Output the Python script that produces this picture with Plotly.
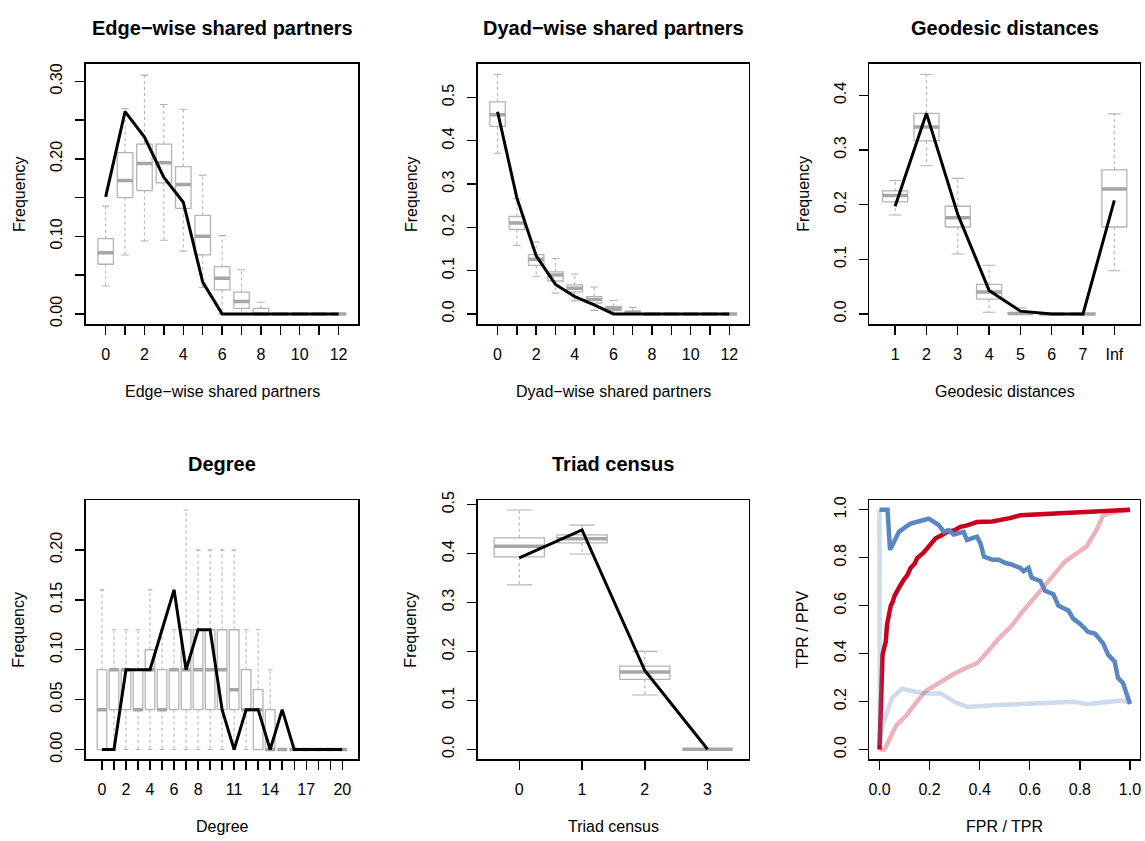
import plotly.graph_objects as go

# ---------------- data ----------------
# Edge-wise shared partners (positions 0..12)
esp_pos = list(range(13))
esp_lo = [0.036, 0.076, 0.094, 0.095, 0.081, 0.034, 0.0, 0.0, 0.0, 0, 0, 0, 0]
esp_q1 = [0.064, 0.150, 0.159, 0.169, 0.136, 0.076, 0.031, 0.007, 0.0, 0, 0, 0, 0]
esp_med = [0.079, 0.172, 0.194, 0.195, 0.167, 0.100, 0.046, 0.016, 0.0, 0, 0, 0, 0]
esp_q3 = [0.097, 0.208, 0.219, 0.219, 0.190, 0.127, 0.061, 0.028, 0.007, 0, 0, 0, 0]
esp_hi = [0.139, 0.265, 0.308, 0.270, 0.264, 0.179, 0.101, 0.057, 0.015, 0, 0, 0, 0]
esp_obs = [0.151, 0.261, 0.228, 0.176, 0.144, 0.041, 0, 0, 0, 0, 0, 0, 0]

# Dyad-wise shared partners (positions 0..12)
dsp_pos = list(range(13))
dsp_lo = [0.371, 0.158, 0.087, 0.048, 0.030, 0.008, 0.0, 0.0, 0, 0, 0, 0, 0]
dsp_q1 = [0.433, 0.195, 0.112, 0.076, 0.051, 0.025, 0.0076, 0.0, 0, 0, 0, 0, 0]
dsp_med = [0.460, 0.210, 0.126, 0.090, 0.059, 0.033, 0.012, 0.004, 0, 0, 0, 0, 0]
dsp_q3 = [0.490, 0.225, 0.137, 0.097, 0.067, 0.040, 0.0175, 0.006, 0.001, 0, 0, 0, 0]
dsp_hi = [0.553, 0.266, 0.166, 0.128, 0.092, 0.062, 0.031, 0.015, 0.002, 0, 0, 0, 0]
dsp_obs = [0.467, 0.268, 0.134, 0.068, 0.040, 0.021, 0, 0, 0, 0, 0, 0, 0]

# Geodesic distances (positions 1..7, Inf at 8)
geo_pos = [1, 2, 3, 4, 5, 6, 7, 8]
geo_lo = [0.181, 0.271, 0.1095, 0.003, 0, 0, 0, 0.079]
geo_q1 = [0.205, 0.3165, 0.159, 0.027, 0, 0, 0, 0.159]
geo_med = [0.2166, 0.342, 0.176, 0.040, 0.0005, 0, 0, 0.2286]
geo_q3 = [0.225, 0.367, 0.197, 0.054, 0.002, 0, 0, 0.2635]
geo_hi = [0.244, 0.438, 0.248, 0.089, 0.011, 0, 0, 0.366]
geo_obs = [0.197, 0.367, 0.182, 0.043, 0.005, 0, 0, 0.2076]

# Degree (positions 0..20)
deg_pos = list(range(21))
deg_lo = [0.0] * 21
deg_q1 = [0, 0.04, 0.04, 0.04, 0.04, 0.04, 0.04, 0.04, 0.04, 0.04, 0.04, 0.04, 0.04, 0, 0, 0, 0, 0, 0, 0, 0]
deg_med = [0.04, 0.08, 0.08, 0.04, 0.08, 0.04, 0.08, 0.08, 0.08, 0.08, 0.08, 0.06, 0.04, 0.04, 0, 0, 0, 0, 0, 0, 0]
deg_q3 = [0.08, 0.08, 0.08, 0.08, 0.10, 0.08, 0.08, 0.12, 0.12, 0.12, 0.12, 0.12, 0.08, 0.06, 0.04, 0, 0, 0, 0, 0, 0]
deg_hi = [0.16, 0.12, 0.12, 0.12, 0.16, 0.12, 0.12, 0.24, 0.20, 0.20, 0.20, 0.20, 0.12, 0.12, 0.08, 0, 0, 0, 0, 0, 0]
deg_obs = [0, 0, 0.08, 0.08, 0.08, 0.12, 0.16, 0.08, 0.12, 0.12, 0.04, 0, 0.04, 0.04, 0, 0.04, 0, 0, 0, 0, 0]

# Triad census (positions 0..3)
tri_pos = [0, 1, 2, 3]
tri_lo = [0.336, 0.399, 0.111, 0]
tri_q1 = [0.393, 0.4215, 0.143, 0]
tri_med = [0.415, 0.430, 0.158, 0]
tri_q3 = [0.432, 0.438, 0.170, 0]
tri_hi = [0.489, 0.458, 0.200, 0]
tri_obs = [0.391, 0.448, 0.161, 0]

# ROC / PR curves
roc_fpr = [0, 0.003, 0.005, 0.008, 0.012, 0.02, 0.025, 0.03, 0.038, 0.045, 0.052, 0.06, 0.078, 0.09,
           0.098, 0.11, 0.124, 0.14, 0.151, 0.175, 0.197, 0.224, 0.25, 0.27, 0.3, 0.323, 0.35, 0.389,
           0.45, 0.476, 0.52, 0.562, 0.7, 0.85, 1.0]
roc_tpr = [0, 0.1, 0.23, 0.33, 0.395, 0.43, 0.449, 0.52, 0.573, 0.6, 0.614, 0.641, 0.675, 0.70,
           0.71, 0.725, 0.757, 0.775, 0.799, 0.82, 0.847, 0.881, 0.895, 0.908, 0.915, 0.929, 0.935, 0.949,
           0.951, 0.955, 0.965, 0.977, 0.985, 0.993, 1.0]
pr_tpr = [0, 0.032, 0.042, 0.06, 0.078, 0.1, 0.124, 0.159, 0.197, 0.237, 0.257, 0.276, 0.296, 0.336,
          0.349, 0.389, 0.403, 0.417, 0.45, 0.476, 0.503, 0.529, 0.562, 0.575, 0.595, 0.608, 0.642,
          0.661, 0.694, 0.714, 0.754, 0.774, 0.8, 0.833, 0.86, 0.893, 0.913, 0.939, 0.952, 0.972, 1.0]
pr_ppv = [1.0, 1.0, 0.833, 0.867, 0.908, 0.925, 0.942, 0.952, 0.963, 0.936, 0.908, 0.915, 0.897, 0.908,
          0.874, 0.888, 0.86, 0.805, 0.792, 0.792, 0.778, 0.771, 0.757, 0.744, 0.757, 0.716, 0.703,
          0.662, 0.648, 0.6, 0.58, 0.545, 0.525, 0.49, 0.484, 0.443, 0.395, 0.367, 0.299, 0.278, 0.19]
null_roc_fpr = [0, 0.02, 0.066, 0.106, 0.146, 0.185, 0.238, 0.291, 0.344, 0.39, 0.437, 0.476, 0.529,
                0.569, 0.648, 0.741, 0.827, 0.866, 0.893, 0.939, 1.0]
null_roc_tpr = [0, 0, 0.1, 0.141, 0.196, 0.244, 0.278, 0.312, 0.34, 0.36, 0.415, 0.463, 0.518,
                0.573, 0.669, 0.785, 0.847, 0.915, 0.977, 0.99, 1.0]
null_pr_tpr = [0, 0.001, 0.012, 0.05, 0.09, 0.146, 0.198, 0.245, 0.304, 0.351, 0.45, 0.582, 0.741,
               0.78, 0.827, 0.966, 1.0]
null_pr_ppv = [1.0, 0.02, 0.1, 0.215, 0.254, 0.24, 0.234, 0.234, 0.196, 0.178, 0.185, 0.189, 0.196,
               0.199, 0.189, 0.205, 0.196]

# tick labels
esp_ticks = list(range(13))
esp_ticktext = [str(v) if v % 2 == 0 else "" for v in esp_ticks]
geo_ticktext = ["1", "2", "3", "4", "5", "6", "7", "Inf"]
deg_ticktext = ["0", "", "2", "", "4", "", "6", "", "8", "", "", "11", "", "", "14", "", "", "17", "", "", "20"]
tri_ticktext = ["0", "1", "2", "3"]
y1_vals = [0, 0.05, 0.10, 0.15, 0.20, 0.25, 0.30]
y1_text = ["0.00", "", "0.10", "", "0.20", "", "0.30"]
y2_vals = [0, 0.1, 0.2, 0.3, 0.4, 0.5]
y2_text = ["0.0", "0.1", "0.2", "0.3", "0.4", "0.5"]
y3_vals = [0, 0.1, 0.2, 0.3, 0.4]
y3_text = ["0.0", "0.1", "0.2", "0.3", "0.4"]
y4_vals = [0, 0.05, 0.10, 0.15, 0.20]
y4_text = ["0.00", "0.05", "0.10", "0.15", "0.20"]
y6_vals = [0, 0.2, 0.4, 0.6, 0.8, 1.0]
y6_text = ["0.0", "0.2", "0.4", "0.6", "0.8", "1.0"]

titles = ["Edge\u2212wise shared partners", "Dyad\u2212wise shared partners", "Geodesic distances",
          "Degree", "Triad census", ""]
xlabels = ["Edge\u2212wise shared partners", "Dyad\u2212wise shared partners", "Geodesic distances",
           "Degree", "Triad census", "FPR / TPR"]
ylabels = ["Frequency"] * 5 + ["TPR / PPV"]

# ---------------- styling / layout ----------------
W, H = 1145, 841
FONT = "Liberation Sans, Arial, Helvetica, sans-serif"
BOX_COL = "#B4B4B4"
MED_COL = "#A6A6A6"
cols_px = [(85, 358), (477.7, 749.3), (870, 1141)]
rows_px = [(55.5, 320), (498.3, 761)]

fig = go.Figure()


def add_boxes(ax, pos, lo, q1, med, q3, hi, obs):
    xr, yr = ("x" + ax, "y" + ax)
    bx, by, mx, my, wx, wy, sx, sy = [], [], [], [], [], [], [], []
    for p, a, b, m, c, d in zip(pos, lo, q1, med, q3, hi):
        bx += [p - 0.4, p + 0.4, p + 0.4, p - 0.4, p - 0.4, None]
        by += [b, b, c, c, b, None]
        mx += [p - 0.4, p + 0.4, None]
        my += [m, m, None]
        wx += [p, p, None, p, p, None]
        wy += [c, d, None, b, a, None]
        sx += [p - 0.2, p + 0.2, None, p - 0.2, p + 0.2, None]
        sy += [d, d, None, a, a, None]
    fig.add_trace(go.Scatter(x=wx, y=wy, mode="lines", xaxis=xr, yaxis=yr,
                             line=dict(color=BOX_COL, width=1.1, dash="3px,3px")))
    fig.add_trace(go.Scatter(x=sx, y=sy, mode="lines", xaxis=xr, yaxis=yr,
                             line=dict(color=BOX_COL, width=1.1)))
    fig.add_trace(go.Scatter(x=bx, y=by, mode="lines", xaxis=xr, yaxis=yr,
                             line=dict(color=BOX_COL, width=1.3)))
    fig.add_trace(go.Scatter(x=mx, y=my, mode="lines", xaxis=xr, yaxis=yr,
                             line=dict(color=MED_COL, width=3.5)))
    fig.add_trace(go.Scatter(x=pos, y=obs, mode="lines", xaxis=xr, yaxis=yr,
                             line=dict(color="black", width=3)))


add_boxes("", esp_pos, esp_lo, esp_q1, esp_med, esp_q3, esp_hi, esp_obs)
add_boxes("2", dsp_pos, dsp_lo, dsp_q1, dsp_med, dsp_q3, dsp_hi, dsp_obs)
add_boxes("3", geo_pos, geo_lo, geo_q1, geo_med, geo_q3, geo_hi, geo_obs)
add_boxes("4", deg_pos, deg_lo, deg_q1, deg_med, deg_q3, deg_hi, deg_obs)
add_boxes("5", tri_pos, tri_lo, tri_q1, tri_med, tri_q3, tri_hi, tri_obs)

RED = "#C8001E"
BLUE = "#5887C4"
fig.add_trace(go.Scatter(x=roc_fpr, y=roc_tpr, mode="lines", xaxis="x6", yaxis="y6",
                         line=dict(color=RED, width=4.5)))
fig.add_trace(go.Scatter(x=null_roc_fpr, y=null_roc_tpr, mode="lines", xaxis="x6", yaxis="y6",
                         line=dict(color="rgba(200,0,30,0.3)", width=4.5)))
fig.add_trace(go.Scatter(x=pr_tpr, y=pr_ppv, mode="lines", xaxis="x6", yaxis="y6",
                         line=dict(color=BLUE, width=4.5)))
fig.add_trace(go.Scatter(x=null_pr_tpr, y=null_pr_ppv, mode="lines", xaxis="x6", yaxis="y6",
                         line=dict(color="rgba(88,135,196,0.3)", width=4.5)))

x_ranges = [(-1.02, 13.02), (-1.02, 13.02), (0.18, 8.82), (-1.34, 21.34), (-0.66, 3.66), (-0.04, 1.04)]
y_ranges = [(-0.0136, 0.3227), (-0.0244, 0.578), (-0.0193, 0.4578), (-0.0096, 0.2498),
            (-0.0201, 0.5089), (-0.04, 1.04)]
x_ticks = [(esp_ticks, esp_ticktext), (esp_ticks, esp_ticktext), (geo_pos, geo_ticktext),
           (deg_pos, deg_ticktext), (tri_pos, tri_ticktext), (y6_vals, y6_text)]
y_ticks = [(y1_vals, y1_text), (y2_vals, y2_text), (y3_vals, y3_text), (y4_vals, y4_text),
           (y2_vals, y2_text), (y6_vals, y6_text)]

annotations = []
for i in range(6):
    r, c = divmod(i, 3)
    l, rr = cols_px[c]
    t, b = rows_px[r]
    suf = "" if i == 0 else str(i + 1)
    common = dict(showline=True, mirror=True, linecolor="black", linewidth=1.4, ticks="outside",
                  ticklen=9, tickwidth=1.4, tickcolor="black", showgrid=False, zeroline=False,
                  tickfont=dict(family=FONT, size=16, color="black"), tickmode="array",
                  fixedrange=True)
    fig.layout["xaxis" + suf] = dict(common, domain=[l / W, rr / W], range=list(x_ranges[i]),
                                     anchor="y" + suf, tickvals=x_ticks[i][0],
                                     ticktext=x_ticks[i][1], ticklabelstandoff=6)
    fig.layout["yaxis" + suf] = dict(common, domain=[1 - b / H, 1 - t / H], range=list(y_ranges[i]),
                                     anchor="x" + suf, tickvals=y_ticks[i][0],
                                     ticktext=y_ticks[i][1], tickangle=-90, ticklabelstandoff=7)
    cx = (l + rr) / 2 / W
    if titles[i]:
        annotations.append(dict(text="<b>" + titles[i] + "</b>", x=cx, y=1 - (t - 36.5) / H,
                                xref="paper", yref="paper", showarrow=False, xanchor="center",
                                yanchor="middle", font=dict(family=FONT, size=20, color="black")))
    annotations.append(dict(text=xlabels[i], x=cx, y=1 - (b + 68.5) / H, xref="paper", yref="paper",
                            showarrow=False, xanchor="center", yanchor="middle",
                            font=dict(family=FONT, size=16, color="black")))
    annotations.append(dict(text=ylabels[i], x=(l - 67) / W, y=1 - (t + b) / 2 / H, xref="paper",
                            yref="paper", showarrow=False, xanchor="center", yanchor="middle",
                            textangle=-90, font=dict(family=FONT, size=16, color="black")))

fig.update_layout(width=W, height=H, margin=dict(l=0, r=0, t=0, b=0), showlegend=False,
                  paper_bgcolor="white", plot_bgcolor="white", hovermode=False,
                  annotations=annotations, font=dict(family=FONT, color="black"))

pin_js = (
    "document.documentElement.style.margin='0';"
    "document.body.style.margin='0';"
    "document.body.style.overflow='hidden';"
    "var gd=document.getElementById('{plot_id}');"
    "gd.style.position='fixed';gd.style.left='0px';gd.style.top='0px';"
)
fig.write_html("out.html", post_script=pin_js, config={"displayModeBar": False, "staticPlot": True})
